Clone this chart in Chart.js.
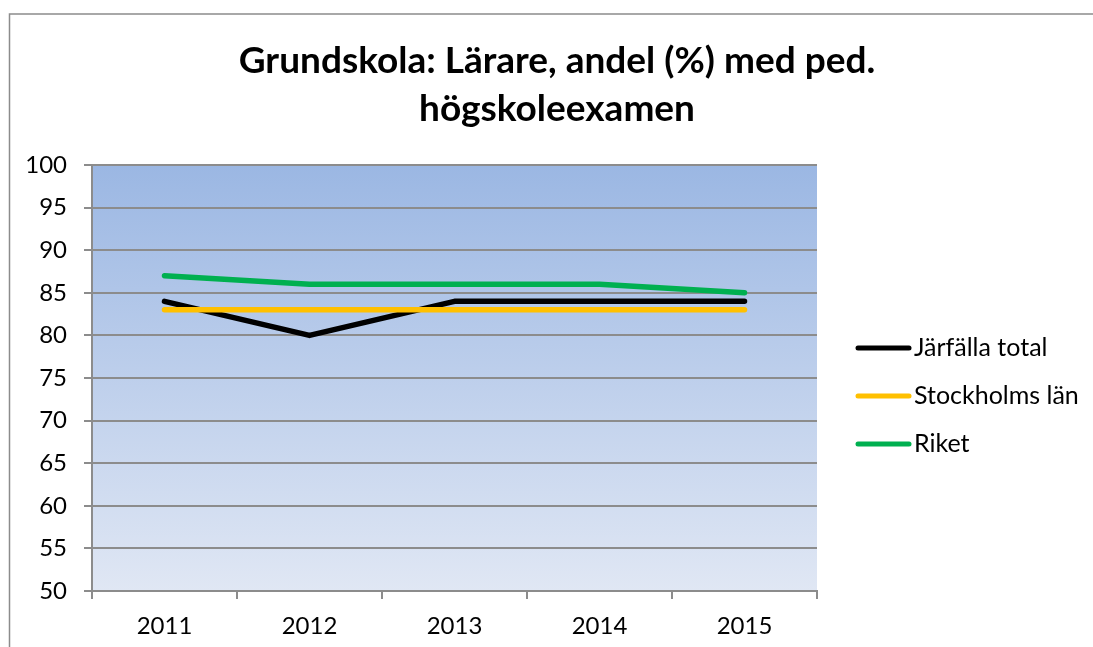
<!DOCTYPE html>
<html>
<head>
<meta charset="utf-8">
<script src="https://cdn.jsdelivr.net/npm/chart.js@4"></script>
<style>
  html, body { margin: 0; padding: 0; background: #fff; }
  #wrap { width: 1093px; height: 647px; position: relative; }
</style>
</head>
<body>
<div id="wrap"><canvas id="chart" width="1093" height="647"></canvas></div>
<script>
// chart data
const years = ['2011', '2012', '2013', '2014', '2015'];
const jarfalla = [84, 80, 84, 84, 84];
const stockholm = [83, 83, 83, 83, 83];
const riket = [87, 86, 86, 86, 85];
const seriesNames = ['Järfälla total', 'Stockholms län', 'Riket'];
const seriesColors = ['#000000', '#FFC000', '#00B050'];
const titleLines = ['Grundskola: Lärare, andel (%) med ped.', 'högskoleexamen'];

const FONT = 'Lato, "Open Sans", sans-serif';

// frame + gradient plot background
const backdrop = {
  id: 'backdrop',
  beforeDraw(chart) {
    const ctx = chart.ctx;
    const a = chart.chartArea;
    ctx.save();
    ctx.fillStyle = '#fff';
    ctx.fillRect(0, 0, chart.width, chart.height);
    ctx.strokeStyle = '#8c8c8c';
    ctx.lineWidth = 1.5;
    ctx.strokeRect(9.5, 14, chart.width + 20, chart.height + 20);
    const g = ctx.createLinearGradient(0, a.top, 0, a.bottom);
    g.addColorStop(0, '#9bb7e3');
    g.addColorStop(1, '#e0e7f4');
    ctx.fillStyle = g;
    ctx.fillRect(a.left, a.top, a.right - a.left, a.bottom - a.top);
    ctx.restore();
  }
};

// title and legend drawn by hand so they sit where they do in the original
const labels = {
  id: 'labels',
  afterDraw(chart) {
    const ctx = chart.ctx;
    ctx.save();
    ctx.fillStyle = '#000';
    ctx.textAlign = 'center';
    ctx.textBaseline = 'alphabetic';
    ctx.font = 'bold 37px ' + FONT;
    ctx.fillText(titleLines[0], 557, 73);
    ctx.fillText(titleLines[1], 557, 121);

    ctx.textAlign = 'left';
    ctx.textBaseline = 'middle';
    ctx.font = '25px ' + FONT;
    ctx.lineCap = 'round';
    ctx.lineWidth = 5;
    seriesNames.forEach((name, i) => {
      const y = 348 + i * 48;
      ctx.strokeStyle = seriesColors[i];
      ctx.beginPath();
      ctx.moveTo(858, y);
      ctx.lineTo(909, y);
      ctx.stroke();
      ctx.fillStyle = '#000';
      ctx.fillText(name, 914, y);
    });
    ctx.restore();
  }
};

const datasets = [jarfalla, stockholm, riket].map((vals, i) => ({
  label: seriesNames[i],
  data: vals,
  borderColor: seriesColors[i],
  backgroundColor: seriesColors[i],
  borderWidth: 5.5,
  borderCapStyle: 'round',
  borderJoinStyle: 'round',
  pointRadius: 0,
  tension: 0,
  order: 3 - i
}));

new Chart(document.getElementById('chart'), {
  type: 'line',
  data: { labels: years, datasets: datasets },
  options: {
    responsive: false,
    animation: false,
    layout: { padding: { top: 165, left: 10, right: 276, bottom: 0 } },
    plugins: {
      legend: { display: false },
      title: { display: false },
      tooltip: { enabled: false }
    },
    scales: {
      x: {
        offset: true,
        afterFit: (s) => { s.height = 56; },
        grid: {
          offset: true,
          drawOnChartArea: false,
          color: '#8c8c8c',
          lineWidth: 2,
          tickLength: 8
        },
        border: { color: '#8c8c8c', width: 2 },
        ticks: { color: '#000', font: { family: FONT, size: 24 }, padding: 13 }
      },
      y: {
        min: 50,
        max: 100,
        afterFit: (s) => { s.width = 82; },
        grid: { color: '#8c8c8c', lineWidth: 2, tickLength: 8 },
        border: { color: '#8c8c8c', width: 2 },
        ticks: { stepSize: 5, color: '#000', font: { family: FONT, size: 24 }, padding: 17 }
      }
    }
  },
  plugins: [backdrop, labels]
});
</script>
</body>
</html>
